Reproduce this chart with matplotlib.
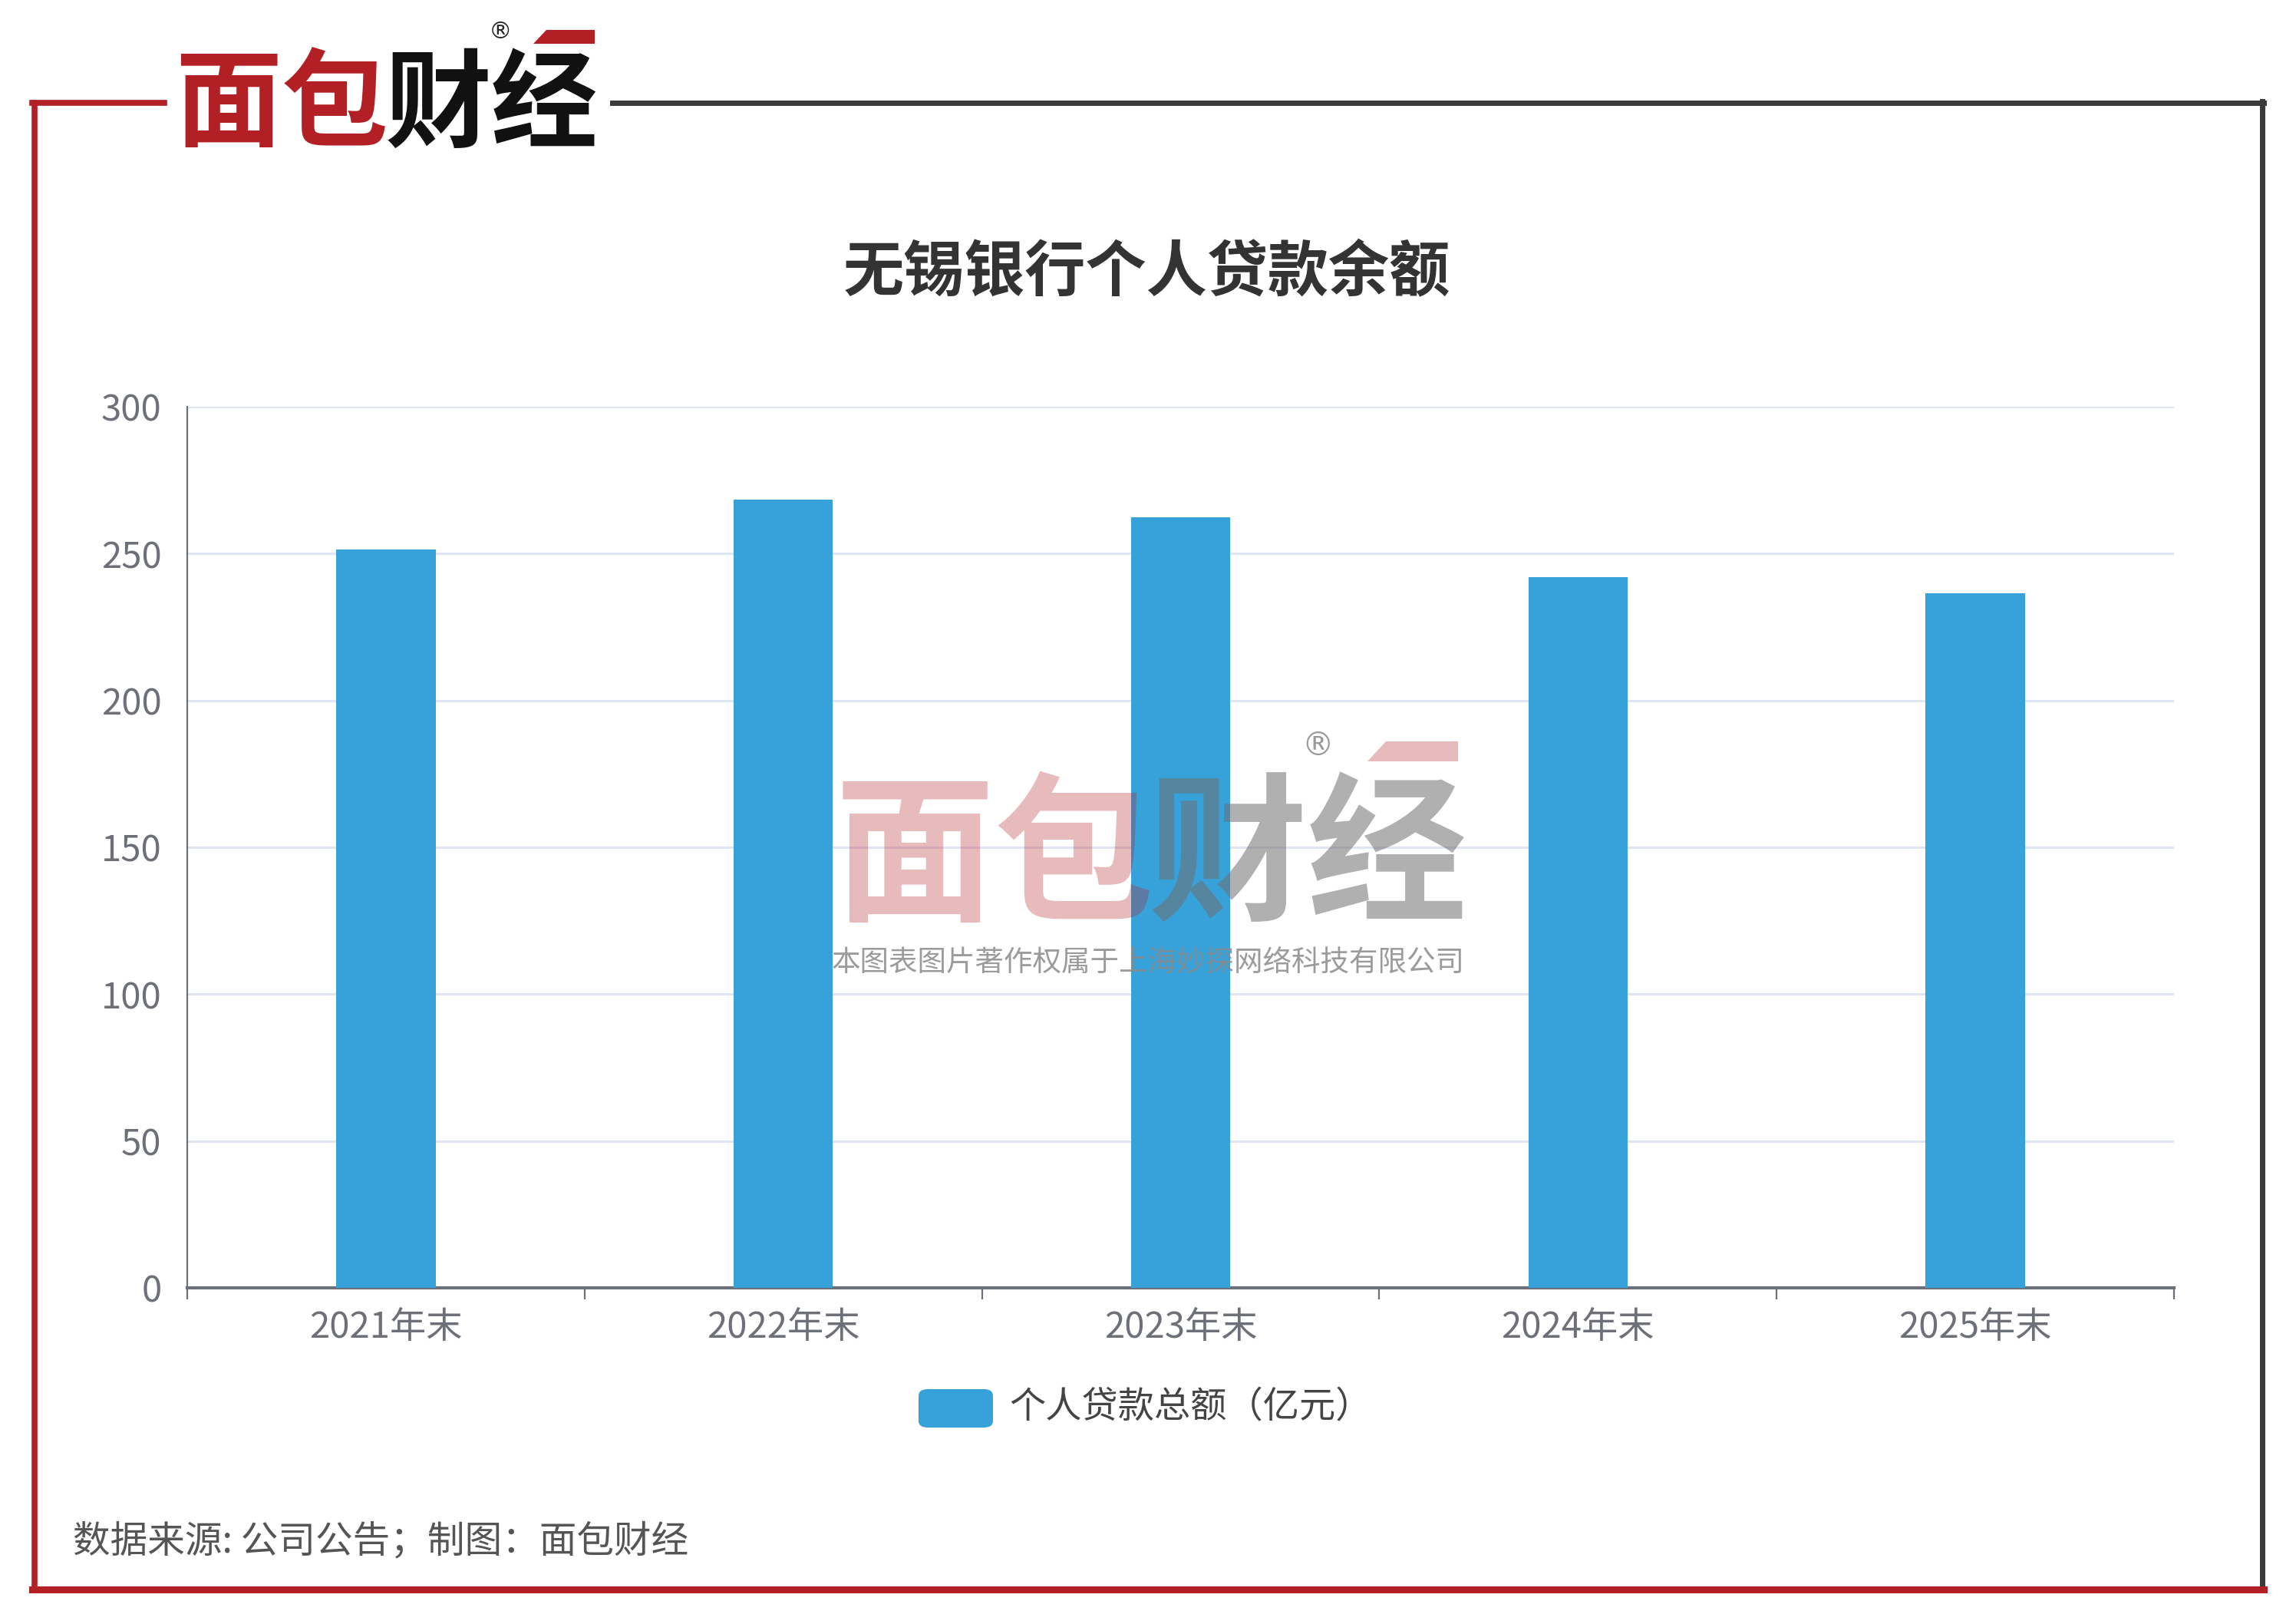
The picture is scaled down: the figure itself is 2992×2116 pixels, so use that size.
import matplotlib
matplotlib.use("Agg")
import matplotlib.pyplot as plt
from matplotlib.lines import Line2D
from matplotlib.patches import Polygon, FancyBboxPatch

plt.rcParams['font.family'] = ['Noto Sans CJK SC', 'DejaVu Sans']

categories = ['2021年末', '2022年末', '2023年末', '2024年末', '2025年末']
values = [251.4, 268.3, 262.5, 241.9, 236.6]
series_name = '个人贷款总额（亿元）'
title = '无锡银行个人贷款余额'
yticks = [0, 50, 100, 150, 200, 250, 300]
source = '数据来源: 公司公告；制图：面包财经'
copyright_txt = '本图表图片著作权属于上海妙探网络科技有限公司'

W, H = 2992, 2116
fig = plt.figure(figsize=(W / 100, H / 100), dpi=100)
fig.patch.set_facecolor('white')

def fx(x):
    return x / W

def fy(y):
    return 1 - y / H

BAR = '#37a2da'

ax = fig.add_axes([fx(244), fy(1678), fx(2833) - fx(244), fy(530) - fy(1678)])
x = list(range(len(categories)))
ax.bar(x, values, width=0.25, color=BAR, zorder=3)
ax.set_xlim(-0.5, len(categories) - 0.5)
ax.set_ylim(0, 300)
ax.set_yticks(yticks)
ax.set_yticklabels([str(v) for v in yticks], fontsize=34, color='#6e7079')
ax.tick_params(axis='y', length=0, pad=24)
ax.set_xticks(x)
ax.set_xticklabels(categories, fontsize=34, color='#6e7079')
ax.set_xticks([i - 0.5 for i in range(len(categories) + 1)], minor=True)
ax.tick_params(axis='x', which='major', length=0, pad=20)
ax.tick_params(axis='x', which='minor', length=11, width=1.6, color='#6e7079', direction='out')
ax.grid(axis='y', color='#e0e6f1', linewidth=2.2, zorder=0)
for s in ['top', 'right']:
    ax.spines[s].set_visible(False)
ax.spines['left'].set_color('#6e7079')
ax.spines['left'].set_linewidth(1.6)
ax.spines['bottom'].set_color('#6e7079')
ax.spines['bottom'].set_linewidth(3)

# Title
fig.text(fx(1494), fy(355), title, fontsize=57, fontweight='bold', color='#333333',
         ha='center', va='center')

# Legend
fig.add_artist(FancyBboxPatch((fx(1197), fy(1860)), fx(1294) - fx(1197), fy(1810) - fy(1860),
                              boxstyle='round,pad=0,rounding_size=0.004', transform=fig.transFigure,
                              facecolor=BAR, edgecolor='none'))
fig.text(fx(1315), fy(1833), series_name, fontsize=34, color='#444444', ha='left', va='center')

# Source
fig.text(fx(95), fy(2009), source, fontsize=35, color='#555555', ha='left', va='center')

# Frame
RED = '#b21f24'
DARK = '#3a3a3a'
fig.add_artist(Line2D([fx(45), fx(45)], [fy(134), fy(2072)], color=RED, lw=5.5, transform=fig.transFigure))
fig.add_artist(Line2D([fx(42), fx(214)], [fy(134), fy(134)], color=RED, lw=5.5, transform=fig.transFigure))
fig.add_artist(Line2D([fx(798), fx(2950)], [fy(134), fy(134)], color=DARK, lw=5, transform=fig.transFigure))
fig.add_artist(Line2D([fx(2948), fx(2948)], [fy(132), fy(2072)], color=DARK, lw=5, transform=fig.transFigure))
fig.add_artist(Line2D([fx(42), fx(2950)], [fy(2071), fy(2071)], color=RED, lw=6.5, transform=fig.transFigure))

# Top logo
fig.text(fx(228), fy(140), '面包', fontsize=100, fontweight='black', color=RED, ha='left', va='center')
fig.text(fx(502), fy(140), '财经', fontsize=100, fontweight='black', color='#111111', ha='left', va='center')
fig.add_artist(Polygon([(fx(712), fy(39)), (fx(775), fy(39)), (fx(775), fy(57)), (fx(695), fy(57))],
                       closed=True, facecolor=RED, edgecolor='none', transform=fig.transFigure))
fig.text(fx(652), fy(42), '®', fontsize=22, color='#222222', ha='center', va='center',
         family=['DejaVu Sans'])

# Watermark
fig.text(fx(1088), fy(1122), '面包', fontsize=150, fontweight='black', color=RED, alpha=0.3,
         ha='left', va='center', zorder=10)
fig.text(fx(1496), fy(1122), '财经', fontsize=150, fontweight='black', color='#707070', alpha=0.55,
         ha='left', va='center', zorder=10)
fig.add_artist(Polygon([(fx(1806), fy(966)), (fx(1900), fy(966)), (fx(1900), fy(992)), (fx(1782), fy(992))],
                       closed=True, facecolor=RED, edgecolor='none', alpha=0.3, transform=fig.transFigure,
                       zorder=10))
fig.text(fx(1717), fy(972), '®', fontsize=30, color='#999999', ha='center', va='center',
         family=['DejaVu Sans'], zorder=10)
fig.text(fx(1496), fy(1254), copyright_txt, fontsize=27, color='#8a8a8a', alpha=0.85,
         ha='center', va='center', zorder=10)

fig.savefig('out.png', dpi=100, facecolor='white')
